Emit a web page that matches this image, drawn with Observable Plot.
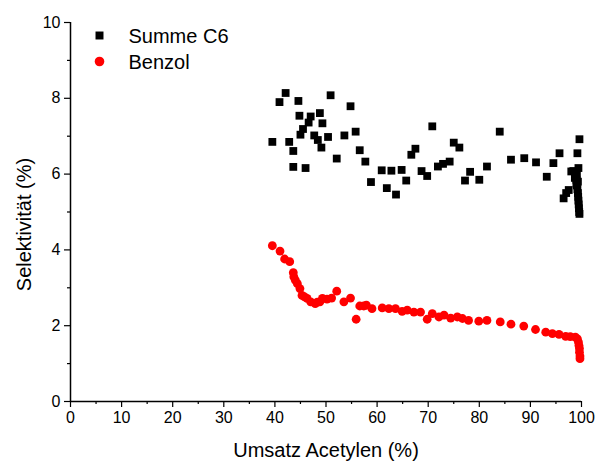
<!DOCTYPE html>
<html>
<head>
<meta charset="utf-8">
<script src="https://cdn.jsdelivr.net/npm/d3@7"></script>
<script src="https://cdn.jsdelivr.net/npm/@observablehq/plot@0.6"></script>
<style>
  html, body { margin: 0; padding: 0; background: #fff; }
</style>
</head>
<body>
<div id="chart"></div>
<script>
const c6X = [39.5,40.9,42.1,42.8,43.6,43.6,44.6,44.8,45.0,45.5,46.0,46.6,47.0,47.7,48.4,48.8,49.1,49.3,50.4,50.9,52.1,53.6,54.8,55.8,56.6,57.7,58.8,60.9,61.9,62.8,63.7,64.8,65.7,66.7,67.5,68.7,69.8,70.8,71.9,72.9,74.2,75.0,76.1,77.2,78.2,80.0,81.5,84.0,86.2,88.8,91.1,93.2,94.5,95.7,96.5,97.0,97.5,98.0,98.4,98.7,99.0,99.2,99.4,99.6,98.8,99.0,99.1,99.2,99.3,99.35,99.4,99.45,99.5,99.55,99.6,99.3,99.1];
const c6Y = [6.85,7.90,8.14,6.85,6.61,6.19,7.93,7.54,7.04,7.19,6.16,7.36,7.52,7.02,6.90,7.61,6.70,7.34,6.98,8.08,6.41,7.02,7.79,7.12,6.63,6.33,5.79,6.10,5.63,6.09,5.46,6.11,5.83,6.51,6.67,6.08,5.95,7.26,6.20,6.27,6.33,6.83,6.70,5.83,6.06,5.85,6.20,7.12,6.38,6.42,6.31,5.93,6.29,6.55,5.36,5.50,5.58,6.07,6.08,5.90,5.75,6.55,6.16,6.92,5.95,5.85,5.70,5.60,5.50,5.40,5.30,5.20,5.10,5.00,4.95,5.80,6.00];

const benzolX = [39.5,41.0,41.9,42.9,43.6,43.7,44.0,44.4,44.9,45.3,45.8,46.3,47.0,47.9,48.3,48.8,49.3,50.2,51.1,52.1,53.5,54.8,55.9,56.6,57.4,57.9,59.0,61.0,62.3,63.6,64.9,65.9,67.2,68.5,69.8,70.8,72.1,73.1,74.4,75.7,76.7,77.9,79.9,81.5,84.1,86.2,88.7,91.0,93.0,94.3,95.6,96.9,97.8,98.8,99.2,99.4,99.5,99.6,99.6,99.7,99.7];
const benzolY = [4.11,3.97,3.76,3.69,3.40,3.29,3.20,3.11,2.98,2.80,2.76,2.72,2.63,2.58,2.62,2.63,2.72,2.70,2.73,2.91,2.63,2.73,2.17,2.52,2.52,2.54,2.45,2.47,2.45,2.45,2.38,2.41,2.36,2.36,2.17,2.32,2.23,2.28,2.20,2.23,2.19,2.14,2.12,2.14,2.10,2.04,1.99,1.90,1.83,1.79,1.77,1.72,1.71,1.70,1.65,1.57,1.48,1.40,1.30,1.20,1.13];

const xMajor = [0,10,20,30,40,50,60,70,80,90,100];
const xMinor = [5,15,25,35,45,55,65,75,85,95];
const yMajor = [0,2,4,6,8,10];
const yMinor = [1,3,5,7,9];
const seriesNames = ["Summe C6", "Benzol"];
const xTitle = "Umsatz Acetylen (%)";
const yTitle = "Selektivität (%)";

const c6 = c6X.map((x, i) => ({x, y: c6Y[i]}));
const benzol = benzolX.map((x, i) => ({x, y: benzolY[i]}));

const chart = Plot.plot({
  width: 599,
  height: 461,
  marginLeft: 70,
  marginRight: 18,
  marginTop: 22,
  marginBottom: 60,
  style: {fontFamily: "'Liberation Sans', Arial, sans-serif", background: "#fff", color: "#000"},
  x: {domain: [0, 100]},
  y: {domain: [0, 10]},
  marks: [
    Plot.axisX({ticks: xMajor, tickSize: 6, tickPadding: 4, fontSize: 16, label: null, strokeWidth: 1.2}),
    Plot.axisX({ticks: xMinor, tickSize: 3, text: null, label: null, strokeWidth: 1.2}),
    Plot.axisY({ticks: yMajor, tickSize: 6, tickPadding: 4, fontSize: 16, label: null, strokeWidth: 1.2}),
    Plot.axisY({ticks: yMinor, tickSize: 3, text: null, label: null, strokeWidth: 1.2}),
    Plot.ruleX([0], {stroke: "black", strokeWidth: 1.5}),
    Plot.ruleY([0], {stroke: "black", strokeWidth: 1.5}),
    Plot.dot(c6, {x: "x", y: "y", symbol: "square", fill: "black", r: 4.4}),
    Plot.dot(benzol, {x: "x", y: "y", symbol: "circle", fill: "#ff0000", r: 4.4}),
    // legend
    Plot.dot([seriesNames[0]], {frameAnchor: "top-left", dx: 29, dy: 13, symbol: "square", fill: "black", r: 4.5}),
    Plot.dot([seriesNames[1]], {frameAnchor: "top-left", dx: 29, dy: 39, symbol: "circle", fill: "#ff0000", r: 4.8}),
    Plot.text([seriesNames[0]], {text: d => d, frameAnchor: "top-left", dx: 58, dy: 14, textAnchor: "start", lineAnchor: "middle", fontSize: 20, fill: "black"}),
    Plot.text([seriesNames[1]], {text: d => d, frameAnchor: "top-left", dx: 58, dy: 40, textAnchor: "start", lineAnchor: "middle", fontSize: 20, fill: "black"}),
    // axis titles
    Plot.text([xTitle], {text: d => d, frameAnchor: "bottom", dy: 49, textAnchor: "middle", lineAnchor: "middle", fontSize: 20, fill: "black"}),
    Plot.text([yTitle], {text: d => d, frameAnchor: "left", dx: -46, dy: 12.5, rotate: -90, textAnchor: "middle", lineAnchor: "middle", fontSize: 20, fill: "black"})
  ]
});
document.getElementById("chart").appendChild(chart);
</script>
</body>
</html>
